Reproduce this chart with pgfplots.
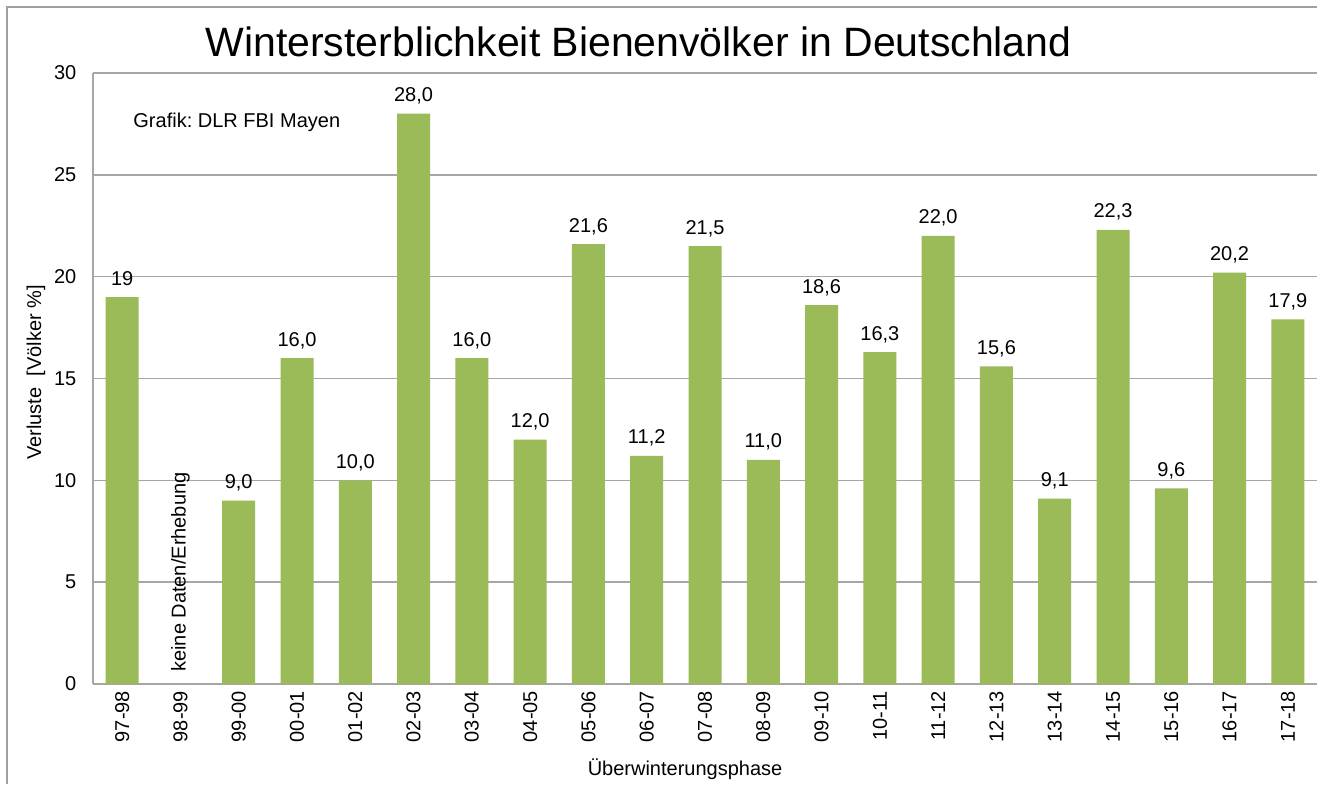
\documentclass[border=0pt]{standalone}
\usepackage{pgfplots}
\usepackage{pgfplotstable}
\usepackage{fontspec}
\setmainfont{Liberation Sans}
\pgfplotsset{compat=1.18}
\frenchspacing
\definecolor{bargreen}{HTML}{9BBB59}
\definecolor{gridgray}{HTML}{A6A6A6}
\definecolor{framegray}{HTML}{A0A0A0}
\pgfplotstableread{
x y label
0 19 19
2 9.0 9,0
3 16.0 16,0
4 10.0 10,0
5 28.0 28,0
6 16.0 16,0
7 12.0 12,0
8 21.6 21,6
9 11.2 11,2
10 21.5 21,5
11 11.0 11,0
12 18.6 18,6
13 16.3 16,3
14 22.0 22,0
15 15.6 15,6
16 9.1 9,1
17 22.3 22,3
18 9.6 9,6
19 20.2 20,2
20 17.9 17,9
}\losses
\begin{document}
\frenchspacing
\begin{tikzpicture}
\useasboundingbox (0,0) rectangle (658.5pt,392pt);
\fill[white] (0,0) rectangle (658.5pt,392pt);
\draw[framegray, line width=0.75pt] (3.5pt,0) -- (3.5pt,388.5pt) -- (660pt,388.5pt);
\node[font=\fontsize{20.5}{24}\selectfont, anchor=base] at (319.25pt,363.5pt) {Wintersterblichkeit Bienenvölker in Deutschland};
\begin{axis}[
  at={(46.5pt,50pt)}, anchor=south west,
  scale only axis, width=612pt, height=305.5pt,
  ybar, bar width=16.5pt,
  xmin=-0.5, xmax=20.5, ymin=0, ymax=30,
  ytick={0,5,...,30},
  xtick={0,...,20},
  xticklabels={97-98,98-99,99-00,00-01,01-02,02-03,03-04,04-05,05-06,06-07,07-08,08-09,09-10,10-11,11-12,12-13,13-14,14-15,15-16,16-17,17-18},
  x tick label style={rotate=90, anchor=east},
  y tick label style={xshift=-4.8pt},
  major tick length=0pt,
  axis x line*=bottom, axis y line*=left,
  axis line style={gridgray, line width=0.7pt, -},
  ymajorgrids, major grid style={gridgray, line width=0.7pt},
  tick label style={font=\fontsize{10}{12}\selectfont},
  /pgf/number format/assume math mode=true,
  xlabel={Überwinterungsphase},
  xlabel style={at={(axis description cs:0.4837,-0.149)}, anchor=base, font=\fontsize{10}{12}\selectfont},
  ylabel={Verluste\ \ [Völker \%]},
  ylabel style={at={(axis description cs:-0.0466,0.51)}, anchor=center, font=\fontsize{10}{12}\selectfont},
  nodes near coords,
  point meta=explicit symbolic,
  nodes near coords style={anchor=base, inner sep=0pt, yshift=6pt, font=\fontsize{10}{12}\selectfont, text=black},
  clip=false,
]
\addplot[fill=bargreen, draw=none] table[x=x, y=y, meta=label] {\losses};
\node[anchor=base west, inner sep=0pt, font=\fontsize{10}{12}\selectfont] at (axis description cs:0.0327,0.91) {Grafik: DLR FBI Mayen};
\node[rotate=90, anchor=west, font=\fontsize{10}{12}\selectfont, inner sep=0pt] at (axis cs:1,0.59) {keine Daten/Erhebung};
\end{axis}
\end{tikzpicture}
\end{document}
